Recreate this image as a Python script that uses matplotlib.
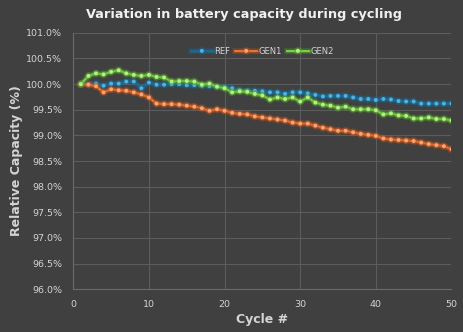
import matplotlib
matplotlib.use("Agg")
import matplotlib.pyplot as plt
import matplotlib.patheffects as pe
from matplotlib.ticker import FuncFormatter, MultipleLocator

cycles = list(range(1, 51))

ref = [100.00, 100.00, 100.01, 99.97, 100.01, 100.01, 100.05, 100.05, 99.92, 100.03,
       99.99, 99.99, 100.00, 100.00, 99.98, 99.98, 99.97, 99.96, 99.95, 99.94,
       99.92, 99.88, 99.87, 99.87, 99.86, 99.84, 99.84, 99.81, 99.84, 99.84,
       99.82, 99.79, 99.76, 99.77, 99.77, 99.77, 99.74, 99.71, 99.71, 99.69,
       99.71, 99.70, 99.67, 99.66, 99.66, 99.62, 99.62, 99.62, 99.62, 99.62]

gen1 = [100.00, 99.99, 99.96, 99.84, 99.90, 99.88, 99.87, 99.84, 99.80, 99.74,
        99.62, 99.61, 99.61, 99.60, 99.58, 99.56, 99.53, 99.48, 99.51, 99.48,
        99.44, 99.42, 99.41, 99.37, 99.35, 99.33, 99.31, 99.29, 99.25, 99.23,
        99.23, 99.19, 99.15, 99.12, 99.09, 99.09, 99.06, 99.03, 99.01, 98.99,
        98.94, 98.92, 98.91, 98.90, 98.89, 98.86, 98.83, 98.81, 98.79, 98.73]

gen2 = [100.00, 100.16, 100.21, 100.19, 100.24, 100.27, 100.21, 100.18, 100.16, 100.18,
        100.14, 100.13, 100.05, 100.06, 100.06, 100.05, 99.99, 100.01, 99.95, 99.92,
        99.84, 99.86, 99.85, 99.81, 99.78, 99.70, 99.74, 99.71, 99.74, 99.66,
        99.74, 99.64, 99.60, 99.58, 99.54, 99.56, 99.51, 99.51, 99.51, 99.49,
        99.41, 99.43, 99.39, 99.38, 99.33, 99.33, 99.35, 99.32, 99.32, 99.29]

bg = "#404040"
grid_c = "#5c5c5c"
text_c = "#d4d4d4"

fig = plt.figure(figsize=(4.64, 3.32), dpi=100, facecolor=bg)
ax = fig.add_axes([0.158, 0.129, 0.815, 0.772], facecolor=bg)

series = [
    ("REF", ref, "#1d6a93", "#4fb3e0", "#1d6a93"),
    ("GEN1", gen1, "#ee7a3c", "#f6a57a", "#c4561c"),
    ("GEN2", gen2, "#7fd84a", "#b5ee8e", "#5aa82c"),
]

for name, vals, lc, mc, glow in series:
    ax.plot(cycles, vals, color=lc, lw=1.3, marker="o", ms=1.8,
            mfc=mc, mec=mc, label=name, zorder=3,
            path_effects=[pe.Stroke(linewidth=4, foreground=glow, alpha=0.3),
                          pe.Stroke(linewidth=2.5, foreground=glow, alpha=0.45),
                          pe.Normal()])

ax.set_xlim(0, 50)
ax.set_ylim(96.0, 101.0)
ax.xaxis.set_major_locator(MultipleLocator(10))
ax.yaxis.set_major_locator(MultipleLocator(0.5))
ax.yaxis.set_major_formatter(FuncFormatter(lambda v, p: f"{v:.1f}%"))

ax.grid(True, color=grid_c, lw=0.8)
ax.set_axisbelow(True)
for s in ["top", "right"]:
    ax.spines[s].set_visible(False)
for s in ["left", "bottom"]:
    ax.spines[s].set_color("#6a6a6a")
    ax.spines[s].set_linewidth(0.8)

ax.tick_params(colors=text_c, labelsize=6.8, length=0, pad=8)

ax.set_xlabel("Cycle #", color=text_c, fontsize=9, fontweight="bold", labelpad=3)
ax.set_ylabel("Relative Capacity (%)", color=text_c, fontsize=9, fontweight="bold", labelpad=2)
fig.suptitle("Variation in battery capacity during cycling", color="#f0f0f0",
             fontsize=9.3, fontweight="bold", x=0.525, y=0.975)

leg = ax.legend(loc="upper center", bbox_to_anchor=(0.5, 0.975), ncol=3, frameon=False,
                fontsize=6, labelcolor=text_c, handlelength=2.6, columnspacing=0.6,
                handletextpad=0.2)

fig.savefig("out.png", dpi=100, facecolor=bg)
